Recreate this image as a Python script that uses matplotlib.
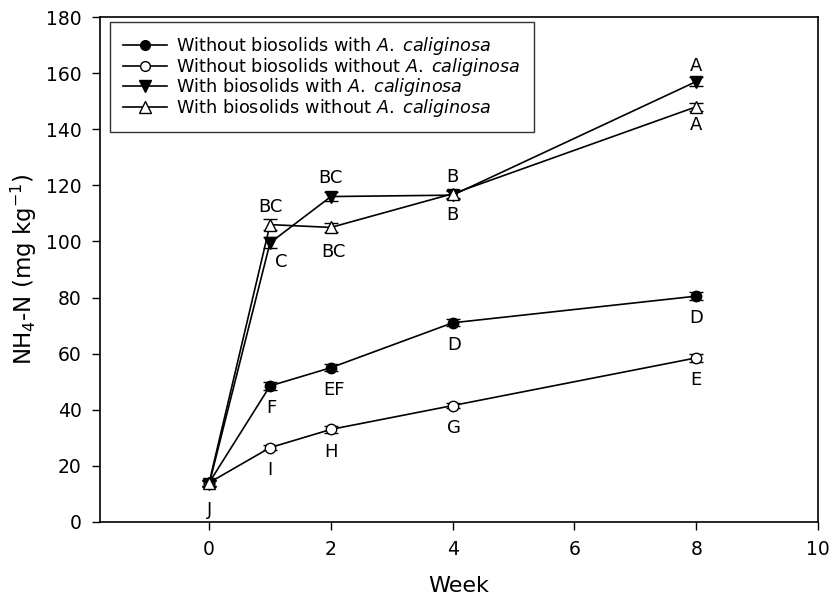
import numpy as np
import matplotlib
matplotlib.use('Agg')
import matplotlib.pyplot as plt
from matplotlib.lines import Line2D

plt.rcParams['font.family'] = ['DejaVu Sans']
plt.rcParams['mathtext.fontset'] = 'custom'
plt.rcParams['mathtext.rm'] = 'DejaVu Sans'
plt.rcParams['mathtext.it'] = 'DejaVu Sans:italic'

# --------------------------------------------------------------------------+
week = [0, 1, 2, 4, 8]

nobio_worm = [14, 48.5, 55, 71, 80.5]
nobio_noworm = [14, 26.5, 33, 41.5, 58.5]
bio_worm = [13.5, 99.5, 116, 116.5, 157]
bio_noworm = [14, 106, 105, 117, 148]

err_nobio_worm = [1.0, 1.5, 1.2, 1.2, 1.5]
err_nobio_noworm = [1.0, 1.0, 1.2, 1.0, 1.5]
err_bio_worm = [1.0, 2.0, 1.5, 1.5, 1.5]
err_bio_noworm = [1.0, 2.0, 1.5, 1.5, 1.5]

# letters of the significance groups
let_nobio_worm = ['J', 'F', 'EF', 'D', 'D']
let_nobio_noworm = ['', 'I', 'H', 'G', 'E']
let_bio_worm = ['', 'C', 'BC', 'B', 'A']
let_bio_noworm = ['', 'BC', 'BC', 'B', 'A']

names = [r'Without biosolids with $A.\;caliginosa$',
         r'Without biosolids without $A.\;caliginosa$',
         r'With biosolids with $A.\;caliginosa$',
         r'With biosolids without $A.\;caliginosa$']
# --------------------------------------------------------------------------+

fig = plt.figure(figsize=(8.33, 6.05), dpi=100)
ax = fig.add_axes([0.1195, 0.1372, 0.8625, 0.8347])

series = [
    (nobio_worm, err_nobio_worm, 'o', 'k', 7.5),
    (nobio_noworm, err_nobio_noworm, 'o', 'w', 7.5),
    (bio_worm, err_bio_worm, 'v', 'k', 8.5),
    (bio_noworm, err_bio_noworm, '^', 'w', 8.5),
]
handles = []
for (y, e, m, fc, ms), name in zip(series, names):
    ax.errorbar(week, y, yerr=e, marker=m, markerfacecolor=fc, markeredgecolor='k',
                markersize=ms, color='k', linewidth=1.2, capsize=5, elinewidth=1,
                capthick=1, zorder=3)
    handles.append(Line2D([], [], color='k', linewidth=1.2, marker=m, markerfacecolor=fc,
                          markeredgecolor='k', markersize=ms - 0.5, label=name))

# letters: offsets in points (dx, dy) for each point
def put_letters(y, letters, offs):
    for xi, yi, t, (dx, dy) in zip(week, y, letters, offs):
        if t:
            ax.annotate(t, (xi, yi), xytext=(dx, dy), textcoords='offset points',
                        ha='center', va='center', fontsize=13)

put_letters(nobio_worm, let_nobio_worm, [(0, -20), (1, -16), (2, -16), (1, -16), (0, -16)])
put_letters(nobio_noworm, let_nobio_noworm, [(0, 0), (0, -16), (0, -16), (1, -16), (0, -16)])
put_letters(bio_worm, let_bio_worm, [(0, 0), (8, -14), (0, 13), (0, 13), (0, 11)])
put_letters(bio_noworm, let_bio_noworm, [(0, 0), (0, 13), (2, -18), (0, -15), (0, -13)])

ax.set_xlim(-1.8, 10)
ax.set_ylim(0, 180)
ax.set_xticks([0, 2, 4, 6, 8, 10])
ax.set_yticks(np.arange(0, 181, 20))
ax.tick_params(direction='out', length=6, width=1, labelsize=13.5, pad=7)
for s in ax.spines.values():
    s.set_linewidth(1.2)

ax.set_xlabel('Week', fontsize=16, labelpad=12)
ax.set_ylabel(r'NH$_4$-N (mg kg$^{-1}$)', fontsize=16.5, labelpad=5)

leg = ax.legend(handles=handles, loc='upper left', bbox_to_anchor=(0.0146, 0.99), fontsize=12.7,
                frameon=True, fancybox=False, edgecolor='k', borderpad=0.75,
                labelspacing=-0.08, handlelength=2.5, handletextpad=0.5, borderaxespad=0.0)
leg.get_frame().set_linewidth(1.0)

fig.savefig('out.png', dpi=100)
